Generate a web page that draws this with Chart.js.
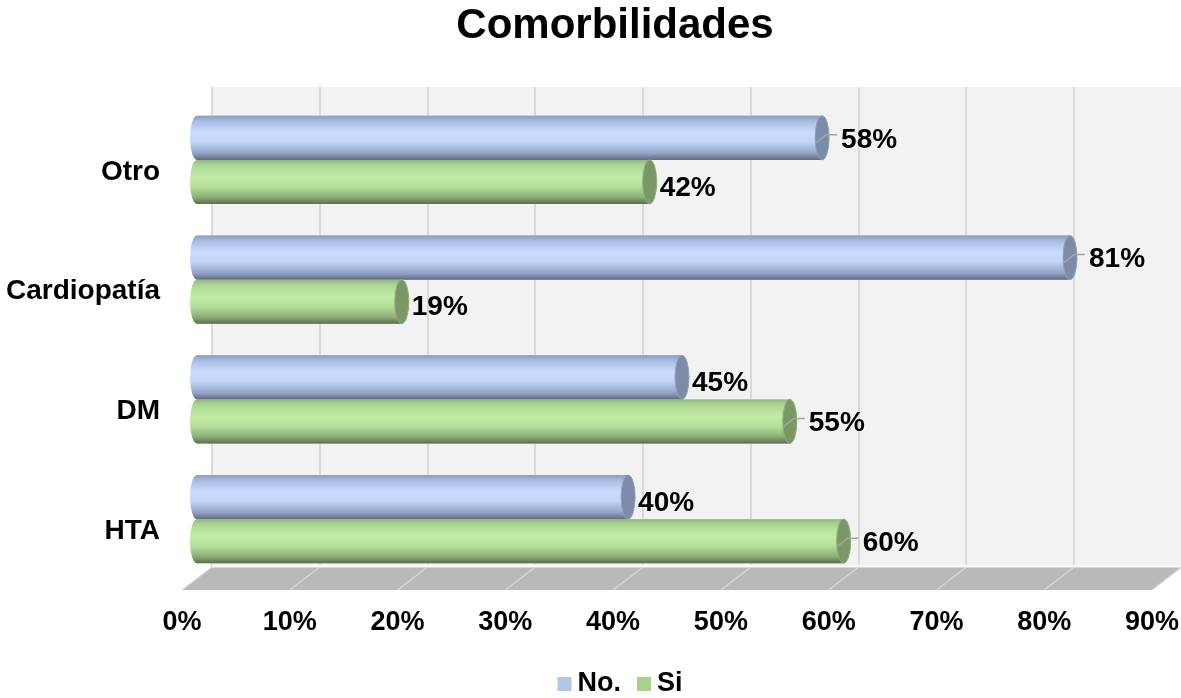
<!DOCTYPE html>
<html>
<head>
<meta charset="utf-8">
<script src="https://cdn.jsdelivr.net/npm/chart.js@4/dist/chart.umd.min.js"></script>
<style>
  html, body { margin: 0; padding: 0; background: #ffffff; }
  #wrap { width: 1181px; height: 698px; position: relative; }
</style>
</head>
<body>
<div id="wrap"><canvas id="chart"></canvas></div>
<script>
// Data
const categories = ['Otro', 'Cardiopatía', 'DM', 'HTA'];
const seriesNames = ['No.', 'Si'];
const valuesNo = [58, 81, 45, 40];
const valuesSi = [42, 19, 55, 60];
const axisMax = 90;
const axisStep = 10;
const chartTitle = 'Comorbilidades';

// Which value labels sit out on a leader line
const leaderNo = [true, true, false, false];
const leaderSi = [false, false, true, true];

const FONT = '"Liberation Sans", Arial, sans-serif';
const DEPTH = 15;      // half the horizontal depth shift of the 3D box
const CAP_RX = 7;      // radius of the cylinder end ellipses

const palettes = [
  { legend: '#b4c7e7', cap: '#7c8ba8', capEdge: '#91a0bc',
    stops: [[0, '#8c9bba'], [0.12, '#a8bce2'], [0.38, '#cadcff'], [0.6, '#c1d3f6'], [0.85, '#93a4c6'], [1, '#606b84']] },
  { legend: '#a9d18e', cap: '#7a9866', capEdge: '#8eac7a',
    stops: [[0, '#94b582'], [0.12, '#acd594'], [0.38, '#c1eca5'], [0.6, '#b6e09a'], [0.85, '#8cae77'], [1, '#5a704d']] }
];

// Back wall, floor and wall gridlines drawn in the scale's coordinate system
const boxPlugin = {
  id: 'box3d',
  beforeDatasetsDraw(chart) {
    const { ctx, chartArea } = chart;
    const xs = chart.scales.x;
    const x0 = xs.getPixelForValue(0), x1 = xs.getPixelForValue(axisMax);
    const wallTop = chartArea.top - 13;
    const backY = chartArea.bottom - 12;
    const frontY = chartArea.bottom + 11;
    ctx.save();
    ctx.fillStyle = '#f2f2f2';
    ctx.fillRect(x0 + DEPTH, wallTop, x1 - x0, backY - wallTop);
    ctx.strokeStyle = '#d9d9d9';
    ctx.lineWidth = 2;
    for (let v = 0; v <= axisMax; v += axisStep) {
      const px = Math.round(xs.getPixelForValue(v) + DEPTH);
      ctx.beginPath();
      ctx.moveTo(px, wallTop);
      ctx.lineTo(px, backY);
      ctx.stroke();
    }
    ctx.fillStyle = '#b9b9b9';
    ctx.beginPath();
    ctx.moveTo(x0 + DEPTH, backY);
    ctx.lineTo(x1 + DEPTH, backY);
    ctx.lineTo(x1 - DEPTH, frontY);
    ctx.lineTo(x0 - DEPTH, frontY);
    ctx.closePath();
    ctx.fill();
    ctx.strokeStyle = '#f7f7f7';
    ctx.lineWidth = 3;
    ctx.beginPath();
    ctx.moveTo(x0 + DEPTH, backY - 1);
    ctx.lineTo(x1 + DEPTH, backY - 1);
    ctx.stroke();
    ctx.strokeStyle = '#dadada';
    ctx.lineWidth = 1.2;
    for (let v = 0; v <= axisMax; v += axisStep) {
      const px = xs.getPixelForValue(v);
      ctx.beginPath();
      ctx.moveTo(px + DEPTH, backY);
      ctx.lineTo(px - DEPTH, frontY);
      ctx.stroke();
    }
    ctx.restore();
  }
};

// Cylinders drawn over each bar element, plus value labels
const cylinderPlugin = {
  id: 'cylinders',
  afterDatasetsDraw(chart) {
    const { ctx } = chart;
    const leaders = [leaderNo, leaderSi];
    chart.data.datasets.forEach((ds, di) => {
      const meta = chart.getDatasetMeta(di);
      if (meta.hidden) return;
      const pal = palettes[di];
      meta.data.forEach((el, i) => {
        const { x, y, base, height } = el.getProps(['x', 'y', 'base', 'height'], true);
        const top = y - height / 2, bottom = y + height / 2;
        const ry = height / 2;
        ctx.save();
        const g = ctx.createLinearGradient(0, top, 0, bottom);
        pal.stops.forEach(s => g.addColorStop(s[0], s[1]));
        ctx.fillStyle = g;
        ctx.beginPath();
        ctx.moveTo(base, top);
        ctx.lineTo(x, top);
        ctx.lineTo(x, bottom);
        ctx.lineTo(base, bottom);
        ctx.ellipse(base, y, CAP_RX, ry, 0, Math.PI / 2, Math.PI * 1.5);
        ctx.closePath();
        ctx.fill();
        ctx.beginPath();
        ctx.ellipse(x, y, CAP_RX, ry, 0, 0, Math.PI * 2);
        ctx.fillStyle = pal.cap;
        ctx.fill();
        ctx.strokeStyle = pal.capEdge;
        ctx.lineWidth = 1;
        ctx.stroke();

        const hasLeader = leaders[di][i];
        let tx = x + 10, ty = y + 6;
        if (hasLeader) {
          ctx.strokeStyle = '#a6a6a6';
          ctx.lineWidth = 1.5;
          ctx.beginPath();
          ctx.moveTo(x - 6, y + 5);
          ctx.lineTo(x + 4, y - 3);
          ctx.lineTo(x + 15, y - 3);
          ctx.stroke();
          tx = x + 19;
          ty = y + 2;
        }
        ctx.fillStyle = '#000000';
        ctx.font = 'bold 28px ' + FONT;
        ctx.textAlign = 'left';
        ctx.textBaseline = 'middle';
        ctx.fillText(ds.data[i] + '%', tx, ty);
        ctx.restore();
      });
    });
  }
};

// Title and legend row
const headerFooterPlugin = {
  id: 'headerFooter',
  afterDraw(chart) {
    const { ctx } = chart;
    ctx.save();
    ctx.fillStyle = '#000000';
    ctx.font = 'bold 42px ' + FONT;
    ctx.textAlign = 'center';
    ctx.textBaseline = 'middle';
    ctx.fillText(chartTitle, 615, 26);

    ctx.font = 'bold 27px ' + FONT;
    ctx.textAlign = 'left';
    ctx.textBaseline = 'alphabetic';
    const box = 14, gapText = 6, gapItem = 16;
    const items = chart.data.datasets.map((ds, di) => ({ text: ds.label, color: palettes[di].legend }));
    const widths = items.map(it => box + gapText + ctx.measureText(it.text).width);
    const total = widths.reduce((a, b) => a + b, 0) + gapItem * (items.length - 1);
    let x = 620 - total / 2;
    const baseline = 691;
    items.forEach((it, k) => {
      ctx.fillStyle = it.color;
      ctx.fillRect(x, baseline - box, box, box);
      ctx.fillStyle = '#000000';
      ctx.fillText(it.text, x + box + gapText, baseline);
      x += widths[k] + gapItem;
    });
    ctx.restore();
  }
};

new Chart(document.getElementById('chart'), {
  type: 'bar',
  data: {
    labels: categories,
    datasets: [
      { label: seriesNames[0], data: valuesNo, backgroundColor: palettes[0].legend, borderWidth: 0,
        categoryPercentage: 0.735, barPercentage: 1 },
      { label: seriesNames[1], data: valuesSi, backgroundColor: palettes[1].legend, borderWidth: 0,
        categoryPercentage: 0.735, barPercentage: 1 }
    ]
  },
  options: {
    indexAxis: 'y',
    responsive: true,
    maintainAspectRatio: false,
    animation: false,
    layout: { padding: { left: 0, right: 14, top: 100, bottom: 0 } },
    plugins: {
      title: { display: false },
      legend: { display: false },
      tooltip: { enabled: false }
    },
    scales: {
      x: {
        type: 'linear',
        min: 0,
        max: axisMax,
        grid: { display: false, drawTicks: false },
        border: { display: false },
        ticks: {
          stepSize: axisStep,
          color: '#000000',
          font: { family: FONT, size: 27, weight: 'bold' },
          padding: 27,
          labelOffset: -DEPTH,
          maxRotation: 0,
          callback: v => v + '%'
        },
        afterFit(scale) {
          scale.paddingLeft = 0;
          scale.paddingRight = 0;
          scale.height = scale.chart.height - 579;
        }
      },
      y: {
        type: 'category',
        grid: { display: false, drawTicks: false },
        border: { display: false },
        ticks: {
          color: '#000000',
          font: { family: FONT, size: 28, weight: 'bold' },
          padding: 37,
          labelOffset: 12
        },
        afterFit(scale) {
          scale.width = 197;
          scale.paddingTop = 0;
          scale.paddingBottom = 0;
        }
      }
    }
  },
  plugins: [boxPlugin, cylinderPlugin, headerFooterPlugin]
});
</script>
</body>
</html>
